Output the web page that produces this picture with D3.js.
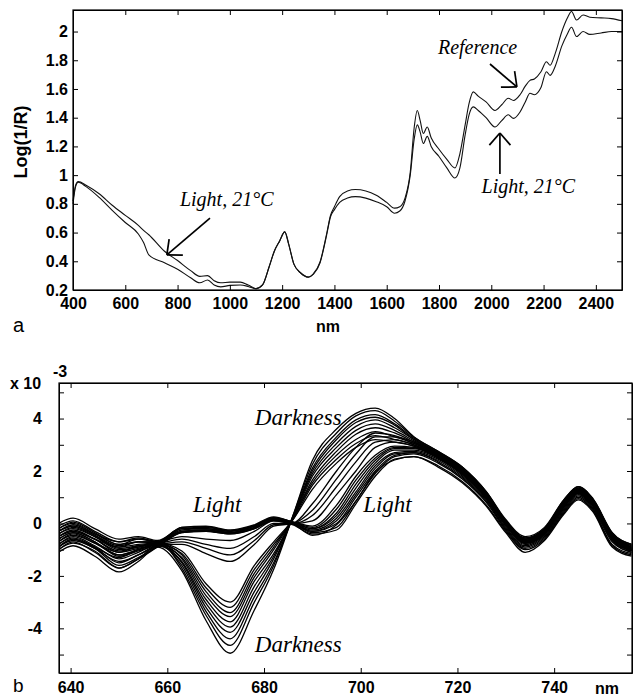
<!DOCTYPE html>
<html>
<head>
<meta charset="utf-8">
<script src="https://cdn.jsdelivr.net/npm/d3@7"></script>
<style>
    body { margin: 0; background: #fff; }
    .tick text { font-family: "Liberation Sans", Arial, sans-serif; font-weight: bold; font-size: 16px; fill: #000; }
    .lbl { font-family: "Liberation Sans", Arial, sans-serif; font-weight: bold; font-size: 16px; fill: #000; }
    .panel { font-family: "Liberation Sans", Arial, sans-serif; font-size: 20px; fill: #000; }
    .note { font-family: "Liberation Serif", "Times New Roman", serif; font-style: italic; fill: #000; }
</style>
</head>
<body>
<svg id="svg" width="633" height="698"></svg>
<script>
// upper plot (a): log(1/R) spectra against wavelength, nm
var topWavelengths = [400, 410, 420, 450, 500, 550, 600, 650, 670, 690, 750, 800, 850, 885, 915,
    940, 965, 1000, 1040, 1070, 1100, 1125, 1150, 1170, 1190, 1210, 1225, 1245, 1270, 1300,
    1320, 1345, 1370, 1385, 1400, 1420, 1450, 1480, 1520, 1560, 1600, 1630, 1650, 1670, 1690,
    1705, 1717, 1728, 1740, 1755, 1770, 1800, 1830, 1861, 1880, 1900, 1915, 1931, 1950, 1980,
    2014, 2040, 2065, 2085, 2110, 2130, 2148, 2165, 2190, 2211, 2225, 2245, 2270, 2290, 2307,
    2326, 2351, 2377, 2420, 2460, 2500];
var lightValues = [0.82, 0.93, 0.955, 0.93, 0.87, 0.79, 0.72, 0.65, 0.615, 0.585, 0.47, 0.405, 0.335, 0.295, 0.30,
    0.265, 0.25, 0.255, 0.255, 0.235, 0.21, 0.235, 0.36, 0.47, 0.54, 0.605, 0.52, 0.38, 0.32, 0.29,
    0.31, 0.39, 0.58, 0.71, 0.76, 0.81, 0.84, 0.85, 0.84, 0.815, 0.78, 0.735, 0.75, 0.82, 1.0,
    1.25, 1.35, 1.3, 1.22, 1.27, 1.2, 1.13, 1.05, 0.98, 1.05, 1.28, 1.42, 1.475, 1.45, 1.4,
    1.335, 1.38, 1.42, 1.395, 1.44, 1.51, 1.57, 1.56, 1.61, 1.72, 1.695, 1.76, 1.90, 1.98, 2.03,
    1.965, 2.0, 1.98, 1.99, 2.0, 2.0];
var referenceValues = [0.80, 0.92, 0.95, 0.92, 0.845, 0.755, 0.67, 0.59, 0.53, 0.445, 0.39, 0.345, 0.285, 0.25, 0.27,
    0.235, 0.222, 0.232, 0.235, 0.225, 0.208, 0.235, 0.36, 0.47, 0.54, 0.605, 0.52, 0.38, 0.32, 0.29,
    0.315, 0.395, 0.59, 0.72, 0.78, 0.85, 0.89, 0.90, 0.89, 0.86, 0.81, 0.77, 0.78, 0.84, 1.02,
    1.33, 1.45, 1.38, 1.29, 1.335, 1.26, 1.18, 1.11, 1.05, 1.15, 1.35, 1.50, 1.58, 1.55, 1.51,
    1.45, 1.49, 1.535, 1.52, 1.56, 1.62, 1.66, 1.67, 1.72, 1.79, 1.765, 1.85, 2.0, 2.09, 2.14,
    2.08, 2.115, 2.10, 2.095, 2.09, 2.075];
var topXTicks = [400, 600, 800, 1000, 1200, 1400, 1600, 1800, 2000, 2200, 2400];
var topYTicks = [0.2, 0.4, 0.6, 0.8, 1, 1.2, 1.4, 1.6, 1.8, 2];

// lower plot (b): derivative spectra, values in units of 10^-3
var bottomWavelengths = [637.5, 640.5, 645, 650, 654, 658, 663, 668, 673, 678, 682, 686, 690, 695, 699,
    703, 707, 711, 716, 721, 726, 730, 734, 738, 742, 745, 748, 752, 756];
var lightCurves = [
    [0.0, 0.2, -0.2, -0.6, -0.5, -0.65, -0.15, -0.1, -0.25, -0.05, 0.25, 0.05, -0.1, 0.7, 1.8, 2.6, 2.95, 2.9, 2.6, 2.0, 1.1, 0.1, -0.6, -0.2, 0.8, 1.3, 0.85, -0.4, -0.9],
    [-0.2, 0.05, -0.35, -0.8, -0.7, -0.7, -0.2, -0.15, -0.3, -0.1, 0.2, 0.05, -0.2, 0.4, 1.5, 2.4, 2.85, 2.85, 2.5, 1.9, 1.0, 0.0, -0.7, -0.3, 0.7, 1.25, 0.8, -0.5, -1.0],
    [-0.4, -0.15, -0.5, -1.0, -0.9, -0.75, -0.25, -0.2, -0.3, -0.1, 0.2, 0.0, -0.25, 0.2, 1.2, 2.2, 2.7, 2.75, 2.45, 1.85, 0.95, -0.1, -0.8, -0.4, 0.6, 1.15, 0.7, -0.6, -1.05],
    [-0.6, -0.35, -0.7, -1.25, -1.05, -0.8, -0.3, -0.25, -0.35, -0.15, 0.15, 0.0, -0.3, 0.0, 1.0, 2.0, 2.6, 2.7, 2.35, 1.75, 0.85, -0.2, -0.9, -0.5, 0.5, 1.05, 0.6, -0.7, -1.1],
    [-0.8, -0.55, -0.9, -1.5, -1.2, -0.85, -0.35, -0.3, -0.4, -0.2, 0.15, 0.0, -0.35, -0.15, 0.85, 1.9, 2.55, 2.65, 2.3, 1.7, 0.8, -0.25, -0.95, -0.55, 0.45, 1.0, 0.55, -0.8, -1.15],
    [-1.0, -0.75, -1.05, -1.7, -1.35, -0.9, -0.35, -0.3, -0.4, -0.2, 0.1, -0.05, -0.4, -0.25, 0.75, 1.8, 2.45, 2.55, 2.2, 1.6, 0.7, -0.3, -1.0, -0.6, 0.4, 0.95, 0.5, -0.85, -1.2],
    [-0.5, -0.25, -0.6, -1.1, -0.95, -0.75, -0.2, -0.2, -0.35, -0.1, 0.2, 0.0, -0.3, 0.1, 1.1, 2.1, 2.65, 2.7, 2.4, 1.8, 0.9, -0.15, -0.85, -0.45, 0.55, 1.1, 0.65, -0.65, -1.1],
    [-0.3, -0.1, -0.45, -0.95, -0.85, -0.7, -0.3, -0.25, -0.35, -0.15, 0.15, 0.0, -0.2, 0.3, 1.35, 2.3, 2.8, 2.8, 2.5, 1.9, 1.0, -0.05, -0.75, -0.35, 0.65, 1.2, 0.75, -0.55, -1.0],
    [-0.1, 0.1, -0.3, -0.7, -0.6, -0.7, -0.15, -0.12, -0.28, -0.08, 0.22, 0.05, -0.15, 0.55, 1.65, 2.5, 2.9, 2.88, 2.55, 1.95, 1.05, 0.05, -0.65, -0.25, 0.75, 1.28, 0.82, -0.45, -0.95],
    [-0.9, -0.65, -0.95, -1.6, -1.3, -0.88, -0.32, -0.28, -0.38, -0.18, 0.12, -0.02, -0.45, -0.05, 0.85, 1.95, 2.42, 2.55, 2.15, 1.55, 0.65, -0.35, -1.1, -0.65, 0.35, 0.9, 0.45, -0.9, -1.25]
];
var middleCurves = [
    [-0.3, -0.05, -0.4, -0.7, -0.55, -0.7, -0.5, -0.6, -0.65, -0.3, 0.1, 0.0, 0.1, 1.1, 2.0, 2.9, 3.1, 2.95, 2.6, 1.95, 1.0, 0.0, -0.75, -0.35, 0.7, 1.2, 0.75, -0.55, -1.0],
    [-0.5, -0.3, -0.6, -0.9, -0.7, -0.75, -0.6, -0.8, -0.95, -0.5, 0.0, 0.0, 0.3, 1.4, 2.35, 3.1, 3.2, 3.0, 2.6, 1.95, 1.0, 0.0, -0.75, -0.4, 0.65, 1.15, 0.7, -0.6, -1.05],
    [-0.7, -0.45, -0.75, -1.1, -0.85, -0.8, -0.7, -0.95, -1.2, -0.65, -0.05, 0.0, 0.5, 1.7, 2.65, 3.3, 3.3, 3.05, 2.65, 2.0, 1.05, 0.05, -0.7, -0.35, 0.7, 1.2, 0.75, -0.55, -1.0],
    [-0.9, -0.6, -0.9, -1.3, -1.0, -0.8, -0.8, -1.15, -1.45, -0.8, -0.1, 0.0, 0.75, 2.0, 2.9, 3.45, 3.35, 3.1, 2.7, 2.05, 1.1, 0.05, -0.7, -0.35, 0.75, 1.25, 0.8, -0.5, -0.95]
];
var darkCurves = [
    [-0.4, -0.2, -0.5, -0.9, -0.8, -0.75, -1.05, -2.3, -3.0, -1.6, -0.7, 0.15, 1.3, 2.3, 2.9, 3.2, 3.1, 2.95, 2.5, 1.9, 0.95, -0.05, -0.75, -0.4, 0.65, 1.15, 0.7, -0.6, -1.05],
    [-0.7, -0.4, -0.75, -1.2, -1.0, -0.8, -1.15, -2.45, -3.2, -1.75, -0.8, 0.15, 1.45, 2.45, 3.05, 3.35, 3.2, 3.0, 2.55, 1.95, 1.0, 0.0, -0.7, -0.35, 0.7, 1.2, 0.75, -0.55, -1.0],
    [-0.2, 0.0, -0.4, -0.8, -0.6, -0.7, -1.2, -2.6, -3.4, -1.9, -0.9, 0.2, 1.55, 2.6, 3.2, 3.5, 3.3, 3.05, 2.6, 2.0, 1.05, 0.05, -0.65, -0.3, 0.75, 1.25, 0.8, -0.5, -0.95],
    [-0.9, -0.6, -0.95, -1.45, -1.2, -0.85, -1.3, -2.75, -3.55, -2.05, -1.0, 0.2, 1.65, 2.75, 3.4, 3.65, 3.45, 3.1, 2.6, 2.0, 1.05, 0.0, -0.7, -0.3, 0.75, 1.25, 0.8, -0.5, -0.95],
    [-0.5, -0.3, -0.6, -1.05, -0.9, -0.75, -1.35, -2.9, -3.75, -2.2, -1.15, 0.2, 1.8, 2.9, 3.55, 3.8, 3.55, 3.15, 2.65, 2.05, 1.1, 0.1, -0.6, -0.25, 0.8, 1.3, 0.85, -0.45, -0.9],
    [-1.0, -0.7, -1.1, -1.7, -1.35, -0.85, -1.45, -3.05, -3.95, -2.4, -1.25, 0.25, 1.9, 3.05, 3.7, 3.95, 3.65, 3.2, 2.65, 2.05, 1.1, 0.05, -0.65, -0.3, 0.8, 1.3, 0.85, -0.45, -0.9],
    [-0.6, -0.35, -0.7, -1.2, -1.0, -0.8, -1.5, -3.2, -4.15, -2.6, -1.35, 0.25, 2.0, 3.2, 3.85, 4.05, 3.75, 3.2, 2.7, 2.1, 1.15, 0.1, -0.6, -0.25, 0.85, 1.35, 0.9, -0.4, -0.85],
    [-0.8, -0.5, -0.85, -1.35, -1.1, -0.8, -1.6, -3.35, -4.4, -2.8, -1.5, 0.25, 2.1, 3.3, 3.95, 4.15, 3.8, 3.25, 2.7, 2.1, 1.15, 0.1, -0.55, -0.2, 0.85, 1.35, 0.9, -0.4, -0.85],
    [-0.3, -0.1, -0.45, -0.85, -0.7, -0.7, -1.7, -3.5, -4.65, -3.0, -1.6, 0.3, 2.25, 3.45, 4.1, 4.3, 3.9, 3.3, 2.75, 2.15, 1.2, 0.15, -0.5, -0.15, 0.9, 1.4, 0.95, -0.35, -0.8],
    [-1.1, -0.85, -1.25, -1.85, -1.45, -0.9, -1.8, -3.7, -4.95, -3.3, -1.75, 0.3, 2.4, 3.6, 4.2, 4.4, 4.0, 3.3, 2.75, 2.15, 1.2, 0.1, -0.55, -0.2, 0.9, 1.4, 0.95, -0.35, -0.8]
];
var bottomXTicks = [640, 660, 680, 700, 720, 740];
var bottomYTicks = [-5, -4, -3, -2, -1, 0, 1, 2, 3, 4, 5];

window.onload = function() {
    var svg = d3.select("#svg");
    draw_top_chart(svg);
    draw_bottom_chart(svg);
};

/**
 * box with inward ticks on all four sides, labels on bottom and left
 */
function draw_frame(g, x, y, xTicks, yTicks, yFormat, xPad, yPad) {
    var x0 = x.range()[0], x1 = x.range()[1],
        y0 = y.range()[0], y1 = y.range()[1];

    g.append("g")
        .attr("transform", "translate(0," + y0 + ")")
        .call(d3.axisBottom(x).tickValues(xTicks).tickSize(-5).tickSizeOuter(0)
            .tickPadding(xPad).tickFormat(d3.format("d")));
    g.append("g")
        .attr("transform", "translate(0," + y1 + ")")
        .call(d3.axisTop(x).tickValues(xTicks).tickSize(-5).tickSizeOuter(0).tickFormat(""));
    g.append("g")
        .attr("transform", "translate(" + x0 + ",0)")
        .call(d3.axisLeft(y).tickValues(yTicks).tickSize(-5).tickSizeOuter(0)
            .tickPadding(yPad).tickFormat(yFormat));
    g.append("g")
        .attr("transform", "translate(" + x1 + ",0)")
        .call(d3.axisRight(y).tickValues(yTicks).tickSize(-5).tickSizeOuter(0).tickFormat(""));

    g.append("rect")
        .attr("x", x0)
        .attr("y", y1)
        .attr("width", x1 - x0)
        .attr("height", y0 - y1)
        .attr("fill", "none")
        .attr("stroke", "#000")
        .attr("stroke-width", 1.2);
}

// line with an open arrow head at the end point
function arrow(g, xa, ya, xb, yb) {
    var ang = Math.atan2(ya - yb, xa - xb), len = 16, spread = 0.72;
    g.append("line")
        .attr("x1", xa).attr("y1", ya).attr("x2", xb).attr("y2", yb);
    [ang - spread, ang + spread].forEach(function (a) {
        g.append("line")
            .attr("x1", xb).attr("y1", yb)
            .attr("x2", xb + len * Math.cos(a))
            .attr("y2", yb + len * Math.sin(a));
    });
}

function draw_top_chart(svg) {
    var g = svg.append("g");

    var x = d3.scaleLinear().domain([400, 2500]).range([73, 622]);
    var y = d3.scaleLinear().domain([0.2, 2.15]).range([290, 10]);

    var line = d3.line()
        .x(function (d, i) { return x(topWavelengths[i]); })
        .y(function (d) { return y(d); })
        .curve(d3.curveMonotoneX);

    [referenceValues, lightValues].forEach(function (s) {
        g.append("path")
            .datum(s)
            .attr("fill", "none")
            .attr("stroke", "#111")
            .attr("stroke-width", 1.1)
            .attr("d", line);
    });

    draw_frame(g, x, y, topXTicks, topYTicks, function (d) { return String(d); }, 8, 5);

    // axis titles and panel letter
    g.append("text")
        .attr("class", "lbl")
        .attr("transform", "translate(27,142) rotate(-90)")
        .attr("text-anchor", "middle")
        .style("font-size", "18px")
        .text("Log(1/R)");
    g.append("text").attr("class", "lbl").attr("x", 328).attr("y", 332)
        .attr("text-anchor", "middle").text("nm");
    g.append("text").attr("class", "panel").attr("x", 13).attr("y", 332).text("a");

    // annotations
    var notes = g.append("g");
    notes.append("text").attr("class", "note").style("font-size", "20px")
        .attr("x", x(809)).attr("y", y(0.785)).text("Light, 21°C");
    notes.append("text").attr("class", "note").style("font-size", "20px")
        .attr("x", x(1796)).attr("y", y(1.843)).text("Reference");
    notes.append("text").attr("class", "note").style("font-size", "20px")
        .attr("x", x(1963)).attr("y", y(0.875)).text("Light, 21°C");

    var arrows = g.append("g").attr("stroke", "#000").attr("stroke-width", 1.7);
    arrow(arrows, x(924), y(0.701), x(759), y(0.444));
    arrow(arrows, x(1995), y(1.774), x(2098), y(1.614));
    arrow(arrows, x(2033), y(1.008), x(2033), y(1.293));
}

function draw_bottom_chart(svg) {
    var g = svg.append("g");

    var x = d3.scaleLinear().domain([637.6, 756.1]).range([59, 632]);
    var y = d3.scaleLinear().domain([-5.703, 5.356]).range([673, 383]);

    svg.append("clipPath")
        .attr("id", "clip-b")
        .append("rect")
        .attr("x", 59).attr("y", 383).attr("width", 573).attr("height", 290);

    var line = d3.line()
        .x(function (d, i) { return x(bottomWavelengths[i]); })
        .y(function (d) { return y(d); })
        .curve(d3.curveMonotoneX);

    var curves = g.append("g").attr("clip-path", "url(#clip-b)");
    darkCurves.concat(middleCurves, lightCurves).forEach(function (s) {
        curves.append("path")
            .datum(s)
            .attr("fill", "none")
            .attr("stroke", "#000")
            .attr("stroke-width", 1.3)
            .attr("d", line);
    });

    draw_frame(g, x, y, bottomXTicks, bottomYTicks,
        function (d) { return d % 2 === 0 ? String(d) : ""; }, 9, 17);

    // scale factor, axis name and panel letter
    g.append("text").attr("class", "lbl").attr("x", 10).attr("y", 389).text("x 10");
    g.append("text").attr("class", "lbl").attr("x", 53).attr("y", 377).text("-3");
    g.append("text").attr("class", "lbl").attr("x", 607).attr("y", 694)
        .attr("text-anchor", "middle").text("nm");
    g.append("text").attr("class", "panel").style("font-size", "19px")
        .attr("x", 13).attr("y", 692).text("b");

    var notes = g.append("g");
    notes.append("text").attr("class", "note").style("font-size", "23px")
        .attr("x", x(678.1)).attr("y", y(3.745)).text("Darkness");
    notes.append("text").attr("class", "note").style("font-size", "23px")
        .attr("x", x(665.3)).attr("y", y(0.43)).text("Light");
    notes.append("text").attr("class", "note").style("font-size", "23px")
        .attr("x", x(700.5)).attr("y", y(0.43)).text("Light");
    notes.append("text").attr("class", "note").style("font-size", "23px")
        .attr("x", x(678.1)).attr("y", y(-4.9)).text("Darkness");
}
</script>
</body>
</html>
